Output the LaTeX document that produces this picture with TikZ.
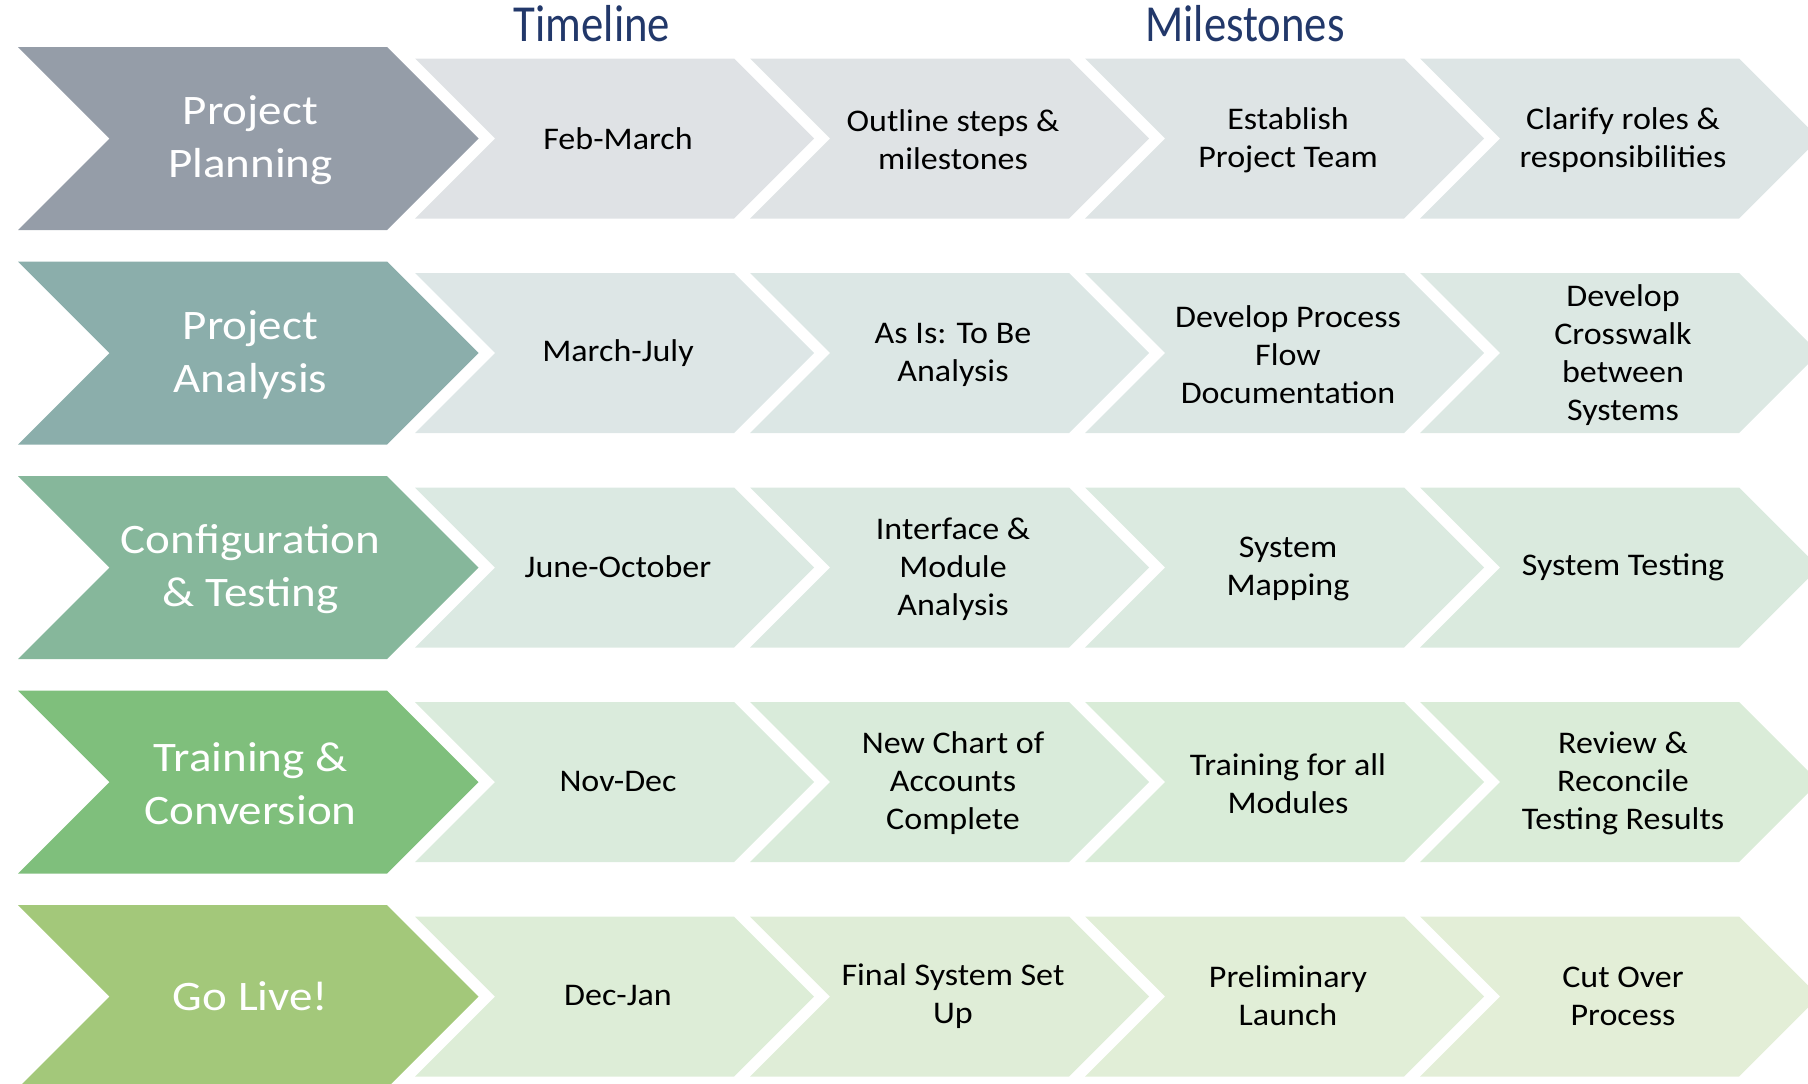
\documentclass[tikz,border=0pt]{standalone}
\usepackage{fontspec}
\setmainfont{Carlito}
\newfontfamily\mainlbl[FakeStretch=1.12]{Carlito}
\newfontfamily\steplbl[FakeStretch=1.08]{Carlito}
\newfontfamily\headlbl[FakeStretch=0.86]{Carlito}
\definecolor{c0}{HTML}{959DA8}
\definecolor{c1}{HTML}{8BAEAB}
\definecolor{c2}{HTML}{86B79B}
\definecolor{c3}{HTML}{7FBF7C}
\definecolor{c4}{HTML}{A3C87A}
\definecolor{c5}{HTML}{A3C87A}
\definecolor{headblue}{HTML}{22386A}
\tikzset{
  mainlabel/.style={text=white, font=\mainlbl\fontsize{42}{53}\selectfont, align=center, inner sep=0pt},
  steplabel/.style={text=black, font=\steplbl\fontsize{31.5}{38}\selectfont, align=center, inner sep=0pt},
  headlabel/.style={text=headblue, font=\headlbl\fontsize{52}{60}\selectfont, anchor=base, inner sep=0pt},
}
\begin{document}
\begin{tikzpicture}[x=1pt, y=-1pt]
\useasboundingbox (0,0) rectangle (1808,1084);
% chevrons
\foreach \i in {0,...,4} {
  \pgfmathsetmacro\yc{138.5+214.5*\i}
  \fill[c\i] (18,\yc-91.5) -- (387,\yc-91.5) -- (478.5,\yc) -- (387,\yc+91.5)
     -- (18,\yc+91.5) -- (109.5,\yc) -- cycle;
  \foreach \j in {0,...,3} {
    \pgfmathsetmacro\t{(4*\i+\j)*4/19}
    \pgfmathtruncatemacro\a{floor(\t)}
    \pgfmathtruncatemacro\b{\a+1}
    \pgfmathtruncatemacro\p{round(100*(1-(\t-\a)))}
    \colorlet{mixc}{c\a!\p!c\b}
    \colorlet{lightc}{mixc!30!white}
    \pgfmathsetmacro\L{415+335*\j}
    \fill[lightc] (\L,\yc-80) -- (\L+319,\yc-80) -- (\L+399,\yc) -- (\L+319,\yc+80)
       -- (\L,\yc+80) -- (\L+80,\yc) -- cycle;
  }
}
% headers
\node[headlabel] (hTime) at (592,41.5) {Timeline};
\node[headlabel] (hMile) at (1245,41.5) {Milestones};
% main labels
\node[mainlabel] (m0) at (250.5,140) {Project\\Planning};
\node[mainlabel] (m1) at (250.5,354.5) {Project\\Analysis};
\node[mainlabel] (m2) at (250.5,569) {Configuration\\\& Testing};
\node[mainlabel] (m3) at (250.5,783.5) {Training \&\\Conversion};
\node[mainlabel] (m4) at (250.5,996.5) {Go Live!};
% step labels
\node[steplabel] (s00) at (618,138.5) {Feb-March};
\node[steplabel] (s01) at (953,140) {Outline steps \&\\milestones};
\node[steplabel] (s02) at (1288,140.5) {Establish\\Project Team};
\node[steplabel] (s03) at (1623,140.5) {Clarify roles \&\\responsibilities};
\node[steplabel] (s10) at (618,353) {March-July};
\node[steplabel] (s11) at (953,355) {As Is: To Be\\Analysis};
\node[steplabel] (s12) at (1288,355) {Develop Process\\Flow\\Documentation};
\node[steplabel] (s13) at (1623,355) {Develop\\Crosswalk\\between\\Systems};
\node[steplabel] (s20) at (618,566.5) {June-October};
\node[steplabel] (s21) at (953,569) {Interface \&\\Module\\Analysis};
\node[steplabel] (s22) at (1288,569) {System\\Mapping};
\node[steplabel] (s23) at (1623,567.5) {System Testing};
\node[steplabel] (s30) at (618,781) {Nov-Dec};
\node[steplabel] (s31) at (953,783.5) {New Chart of\\Accounts\\Complete};
\node[steplabel] (s32) at (1288,783.5) {Training for all\\Modules};
\node[steplabel] (s33) at (1623,783.5) {Review \&\\Reconcile\\Testing Results};
\node[steplabel] (s40) at (618,995.5) {Dec-Jan};
\node[steplabel] (s41) at (953,996) {Final System Set\\Up};
\node[steplabel] (s42) at (1288,996) {Preliminary\\Launch};
\node[steplabel] (s43) at (1623,996) {Cut Over\\Process};
\end{tikzpicture}
\end{document}
